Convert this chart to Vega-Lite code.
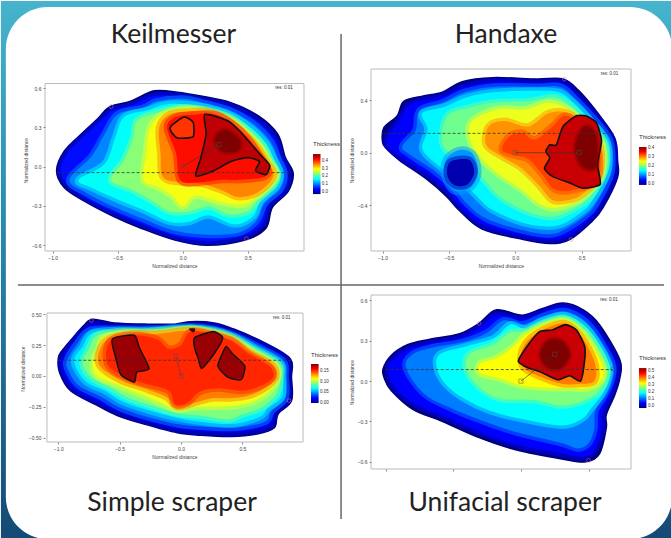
{"$schema":"https://vega.github.io/schema/vega-lite/v6.json","padding":0,"background":"white","bounds":"flush","columns":2,"spacing":{"row":44,"column":67},"resolve":{"scale":{"fill":"independent","stroke":"independent"}},
"config":{"view":{"stroke":null},"axis":{"labelFontSize":5,"titleFontSize":5,"labelColor":"#444","titleColor":"#444","tickColor":"#888","tickSize":2,"domain":false,"grid":false,"labelPadding":2,"titlePadding":3,"titleFontWeight":"normal","labelFont":"Liberation Sans","titleFont":"Liberation Sans"}},
"datasets":{
"a1":[{"v":0,"x":-0.97,"y":-0.03},{"v":0,"x":-0.91,"y":0.12},{"v":0,"x":-0.78,"y":0.25},{"v":0,"x":-0.65,"y":0.37},{"v":0,"x":-0.56,"y":0.46},{"v":0,"x":-0.4,"y":0.5},{"v":0,"x":-0.22,"y":0.58},{"v":0,"x":-0.04,"y":0.57},{"v":0,"x":0.14,"y":0.54},{"v":0,"x":0.37,"y":0.49},{"v":0,"x":0.58,"y":0.39},{"v":0,"x":0.73,"y":0.25},{"v":0,"x":0.79,"y":0.07},{"v":0,"x":0.85,"y":-0.05},{"v":0,"x":0.81,"y":-0.19},{"v":0,"x":0.69,"y":-0.31},{"v":0,"x":0.64,"y":-0.47},{"v":0,"x":0.48,"y":-0.56},{"v":0,"x":0.19,"y":-0.6},{"v":0,"x":-0.06,"y":-0.56},{"v":0,"x":-0.32,"y":-0.47},{"v":0,"x":-0.53,"y":-0.38},{"v":0,"x":-0.76,"y":-0.26},{"v":0,"x":-0.91,"y":-0.16},
{"v":0.06,"x":-0.94,"y":-0.03},{"v":0.06,"x":-0.88,"y":0.11},{"v":0.06,"x":-0.76,"y":0.23},{"v":0.06,"x":-0.63,"y":0.35},{"v":0.06,"x":-0.54,"y":0.43},{"v":0.06,"x":-0.39,"y":0.47},{"v":0.06,"x":-0.22,"y":0.54},{"v":0.06,"x":-0.04,"y":0.54},{"v":0.06,"x":0.14,"y":0.51},{"v":0.06,"x":0.36,"y":0.46},{"v":0.06,"x":0.56,"y":0.36},{"v":0.06,"x":0.7,"y":0.23},{"v":0.06,"x":0.76,"y":0.07},{"v":0.06,"x":0.81,"y":-0.05},{"v":0.06,"x":0.78,"y":-0.18},{"v":0.06,"x":0.66,"y":-0.29},{"v":0.06,"x":0.61,"y":-0.44},{"v":0.06,"x":0.46,"y":-0.53},{"v":0.06,"x":0.19,"y":-0.57},{"v":0.06,"x":-0.06,"y":-0.53},{"v":0.06,"x":-0.31,"y":-0.44},{"v":0.06,"x":-0.52,"y":-0.35},{"v":0.06,"x":-0.74,"y":-0.24},{"v":0.06,"x":-0.88,"y":-0.14},
{"v":0.12,"x":-0.87,"y":-0.1},{"v":0.12,"x":-0.7,"y":0.08},{"v":0.12,"x":-0.6,"y":0.25},{"v":0.12,"x":-0.5,"y":0.4},{"v":0.12,"x":-0.3,"y":0.45},{"v":0.12,"x":-0.2,"y":0.5},{"v":0.12,"x":0,"y":0.52},{"v":0.12,"x":0.15,"y":0.49},{"v":0.12,"x":0.36,"y":0.43},{"v":0.12,"x":0.54,"y":0.33},{"v":0.12,"x":0.67,"y":0.2},{"v":0.12,"x":0.73,"y":0.07},{"v":0.12,"x":0.78,"y":-0.05},{"v":0.12,"x":0.75,"y":-0.17},{"v":0.12,"x":0.63,"y":-0.28},{"v":0.12,"x":0.57,"y":-0.41},{"v":0.12,"x":0.44,"y":-0.5},{"v":0.12,"x":0.2,"y":-0.52},{"v":0.12,"x":-0.06,"y":-0.49},{"v":0.12,"x":-0.3,"y":-0.4},{"v":0.12,"x":-0.52,"y":-0.31},{"v":0.12,"x":-0.74,"y":-0.2},
{"v":0.18,"x":-0.8,"y":-0.1},{"v":0.18,"x":-0.6,"y":0.02},{"v":0.18,"x":-0.52,"y":0.22},{"v":0.18,"x":-0.45,"y":0.38},{"v":0.18,"x":-0.28,"y":0.43},{"v":0.18,"x":-0.1,"y":0.48},{"v":0.18,"x":0.15,"y":0.46},{"v":0.18,"x":0.36,"y":0.4},{"v":0.18,"x":0.52,"y":0.3},{"v":0.18,"x":0.64,"y":0.18},{"v":0.18,"x":0.7,"y":0.06},{"v":0.18,"x":0.75,"y":-0.05},{"v":0.18,"x":0.72,"y":-0.15},{"v":0.18,"x":0.6,"y":-0.26},{"v":0.18,"x":0.54,"y":-0.38},{"v":0.18,"x":0.4,"y":-0.44},{"v":0.18,"x":0.2,"y":-0.37},{"v":0.18,"x":0.05,"y":-0.42},{"v":0.18,"x":-0.1,"y":-0.42},{"v":0.18,"x":-0.3,"y":-0.33},{"v":0.18,"x":-0.5,"y":-0.25},{"v":0.18,"x":-0.7,"y":-0.16},
{"v":0.24,"x":-0.55,"y":-0.1},{"v":0.24,"x":-0.45,"y":0.05},{"v":0.24,"x":-0.38,"y":0.22},{"v":0.24,"x":-0.35,"y":0.35},{"v":0.24,"x":-0.2,"y":0.41},{"v":0.24,"x":0,"y":0.45},{"v":0.24,"x":0.15,"y":0.44},{"v":0.24,"x":0.36,"y":0.38},{"v":0.24,"x":0.5,"y":0.28},{"v":0.24,"x":0.62,"y":0.16},{"v":0.24,"x":0.67,"y":0.06},{"v":0.24,"x":0.73,"y":-0.05},{"v":0.24,"x":0.7,"y":-0.14},{"v":0.24,"x":0.58,"y":-0.25},{"v":0.24,"x":0.5,"y":-0.34},{"v":0.24,"x":0.35,"y":-0.36},{"v":0.24,"x":0.2,"y":-0.3},{"v":0.24,"x":0.05,"y":-0.34},{"v":0.24,"x":-0.1,"y":-0.34},{"v":0.24,"x":-0.25,"y":-0.25},{"v":0.24,"x":-0.4,"y":-0.17},
{"v":0.29,"x":-0.3,"y":-0.1},{"v":0.29,"x":-0.28,"y":0.1},{"v":0.29,"x":-0.25,"y":0.3},{"v":0.29,"x":-0.15,"y":0.4},{"v":0.29,"x":0,"y":0.44},{"v":0.29,"x":0.15,"y":0.43},{"v":0.29,"x":0.36,"y":0.36},{"v":0.29,"x":0.48,"y":0.27},{"v":0.29,"x":0.6,"y":0.15},{"v":0.29,"x":0.66,"y":0.05},{"v":0.29,"x":0.72,"y":-0.05},{"v":0.29,"x":0.68,"y":-0.13},{"v":0.29,"x":0.55,"y":-0.24},{"v":0.29,"x":0.45,"y":-0.29},{"v":0.29,"x":0.3,"y":-0.27},{"v":0.29,"x":0.1,"y":-0.22},{"v":0.29,"x":0,"y":-0.3},{"v":0.29,"x":-0.08,"y":-0.22},{"v":0.29,"x":-0.2,"y":-0.15},
{"v":0.35,"x":-0.15,"y":-0.08},{"v":0.35,"x":-0.17,"y":0.1},{"v":0.35,"x":-0.18,"y":0.3},{"v":0.35,"x":-0.1,"y":0.4},{"v":0.35,"x":0.05,"y":0.42},{"v":0.35,"x":0.2,"y":0.42},{"v":0.35,"x":0.36,"y":0.35},{"v":0.35,"x":0.48,"y":0.25},{"v":0.35,"x":0.58,"y":0.14},{"v":0.35,"x":0.65,"y":0.03},{"v":0.35,"x":0.7,"y":-0.05},{"v":0.35,"x":0.66,"y":-0.13},{"v":0.35,"x":0.55,"y":-0.21},{"v":0.35,"x":0.42,"y":-0.23},{"v":0.35,"x":0.3,"y":-0.18},{"v":0.35,"x":0.15,"y":-0.13},{"v":0.35,"x":0,"y":-0.12},
{"v":0.41,"x":-0.02,"y":-0.1},{"v":0.41,"x":-0.05,"y":0.1},{"v":0.41,"x":-0.12,"y":0.3},{"v":0.41,"x":-0.05,"y":0.38},{"v":0.41,"x":0.1,"y":0.4},{"v":0.41,"x":0.25,"y":0.4},{"v":0.41,"x":0.38,"y":0.33},{"v":0.41,"x":0.5,"y":0.22},{"v":0.41,"x":0.6,"y":0.08},{"v":0.41,"x":0.66,"y":-0.03},{"v":0.41,"x":0.62,"y":-0.08},{"v":0.41,"x":0.45,"y":-0.1},{"v":0.41,"x":0.3,"y":-0.1},{"v":0.41,"x":0.12,"y":-0.12}],
"a2":[{"g":1,"v":0.44,"x":0.17,"y":0.4},{"g":1,"v":0.44,"x":0.35,"y":0.35},{"g":1,"v":0.44,"x":0.45,"y":0.26},{"g":1,"v":0.44,"x":0.6,"y":0.09},{"g":1,"v":0.44,"x":0.67,"y":0.01},{"g":1,"v":0.44,"x":0.64,"y":-0.06},{"g":1,"v":0.44,"x":0.56,"y":-0.03},{"g":1,"v":0.44,"x":0.59,"y":0.04},{"g":1,"v":0.44,"x":0.5,"y":0.07},{"g":1,"v":0.44,"x":0.37,"y":0.04},{"g":1,"v":0.44,"x":0.24,"y":-0.03},{"g":1,"v":0.44,"x":0.1,"y":-0.07},{"g":1,"v":0.44,"x":0.14,"y":0.07},{"g":1,"v":0.44,"x":0.18,"y":0.25},
{"g":2,"v":0.4,"x":-0.09,"y":0.31},{"g":2,"v":0.4,"x":0.01,"y":0.38},{"g":2,"v":0.4,"x":0.08,"y":0.34},{"g":2,"v":0.4,"x":0.08,"y":0.23},{"g":2,"v":0.4,"x":-0.04,"y":0.22},{"g":2,"v":0.4,"x":-0.09,"y":0.27}],
"a3":[{"v":0.47,"x":0.25,"y":0.22},{"v":0.47,"x":0.33,"y":0.28},{"v":0.47,"x":0.44,"y":0.2},{"v":0.47,"x":0.42,"y":0.12},{"v":0.47,"x":0.3,"y":0.12}],
"b1":[{"v":0,"x":-1,"y":0.08},{"v":0,"x":-0.99,"y":0.19},{"v":0,"x":-0.89,"y":0.28},{"v":0,"x":-0.84,"y":0.39},{"v":0,"x":-0.7,"y":0.43},{"v":0,"x":-0.55,"y":0.46},{"v":0,"x":-0.4,"y":0.54},{"v":0,"x":-0.17,"y":0.57},{"v":0,"x":0.16,"y":0.56},{"v":0,"x":0.36,"y":0.56},{"v":0,"x":0.48,"y":0.47},{"v":0,"x":0.63,"y":0.29},{"v":0,"x":0.75,"y":0.11},{"v":0,"x":0.77,"y":-0.06},{"v":0,"x":0.77,"y":-0.19},{"v":0,"x":0.66,"y":-0.42},{"v":0,"x":0.58,"y":-0.52},{"v":0,"x":0.41,"y":-0.66},{"v":0,"x":0.26,"y":-0.69},{"v":0,"x":0.06,"y":-0.66},{"v":0,"x":-0.25,"y":-0.58},{"v":0,"x":-0.42,"y":-0.44},{"v":0,"x":-0.52,"y":-0.33},{"v":0,"x":-0.67,"y":-0.2},{"v":0,"x":-0.87,"y":-0.06},{"v":0,"x":-0.97,"y":0.03},
{"v":0.05,"x":-0.97,"y":0.08},{"v":0.05,"x":-0.87,"y":0.25},{"v":0.05,"x":-0.8,"y":0.36},{"v":0.05,"x":-0.68,"y":0.4},{"v":0.05,"x":-0.54,"y":0.43},{"v":0.05,"x":-0.39,"y":0.5},{"v":0.05,"x":-0.17,"y":0.54},{"v":0.05,"x":0.16,"y":0.53},{"v":0.05,"x":0.35,"y":0.53},{"v":0.05,"x":0.46,"y":0.44},{"v":0.05,"x":0.61,"y":0.27},{"v":0.05,"x":0.73,"y":0.1},{"v":0.05,"x":0.75,"y":-0.06},{"v":0.05,"x":0.74,"y":-0.19},{"v":0.05,"x":0.63,"y":-0.41},{"v":0.05,"x":0.56,"y":-0.5},{"v":0.05,"x":0.4,"y":-0.63},{"v":0.05,"x":0.26,"y":-0.66},{"v":0.05,"x":0.06,"y":-0.63},{"v":0.05,"x":-0.24,"y":-0.55},{"v":0.05,"x":-0.41,"y":-0.41},{"v":0.05,"x":-0.5,"y":-0.3},{"v":0.05,"x":-0.65,"y":-0.17},{"v":0.05,"x":-0.85,"y":-0.04},
{"v":0.1,"x":-0.85,"y":0.05},{"v":0.1,"x":-0.75,"y":0.17},{"v":0.1,"x":-0.72,"y":0.32},{"v":0.1,"x":-0.55,"y":0.38},{"v":0.1,"x":-0.38,"y":0.46},{"v":0.1,"x":-0.17,"y":0.5},{"v":0.1,"x":0.16,"y":0.5},{"v":0.1,"x":0.34,"y":0.5},{"v":0.1,"x":0.45,"y":0.41},{"v":0.1,"x":0.6,"y":0.25},{"v":0.1,"x":0.71,"y":0.1},{"v":0.1,"x":0.73,"y":-0.06},{"v":0.1,"x":0.71,"y":-0.19},{"v":0.1,"x":0.6,"y":-0.4},{"v":0.1,"x":0.53,"y":-0.48},{"v":0.1,"x":0.38,"y":-0.58},{"v":0.1,"x":0.26,"y":-0.62},{"v":0.1,"x":0.06,"y":-0.59},{"v":0.1,"x":-0.22,"y":-0.5},{"v":0.1,"x":-0.37,"y":-0.38},{"v":0.1,"x":-0.47,"y":-0.26},{"v":0.1,"x":-0.62,"y":-0.13},{"v":0.1,"x":-0.8,"y":-0.01},
{"v":0.15,"x":-0.7,"y":0.03},{"v":0.15,"x":-0.66,"y":0.18},{"v":0.15,"x":-0.7,"y":0.3},{"v":0.15,"x":-0.53,"y":0.35},{"v":0.15,"x":-0.37,"y":0.42},{"v":0.15,"x":-0.17,"y":0.46},{"v":0.15,"x":0.16,"y":0.47},{"v":0.15,"x":0.33,"y":0.46},{"v":0.15,"x":0.44,"y":0.38},{"v":0.15,"x":0.58,"y":0.23},{"v":0.15,"x":0.69,"y":0.09},{"v":0.15,"x":0.71,"y":-0.06},{"v":0.15,"x":0.68,"y":-0.19},{"v":0.15,"x":0.57,"y":-0.38},{"v":0.15,"x":0.5,"y":-0.45},{"v":0.15,"x":0.36,"y":-0.54},{"v":0.15,"x":0.24,"y":-0.56},{"v":0.15,"x":0.05,"y":-0.53},{"v":0.15,"x":-0.18,"y":-0.43},{"v":0.15,"x":-0.32,"y":-0.3},{"v":0.15,"x":-0.44,"y":-0.2},{"v":0.15,"x":-0.6,"y":-0.08},
{"v":0.2,"x":-0.52,"y":0.02},{"v":0.2,"x":-0.55,"y":0.15},{"v":0.2,"x":-0.5,"y":0.29},{"v":0.2,"x":-0.35,"y":0.34},{"v":0.2,"x":-0.17,"y":0.38},{"v":0.2,"x":0.1,"y":0.39},{"v":0.2,"x":0.3,"y":0.42},{"v":0.2,"x":0.42,"y":0.35},{"v":0.2,"x":0.56,"y":0.21},{"v":0.2,"x":0.67,"y":0.09},{"v":0.2,"x":0.69,"y":-0.06},{"v":0.2,"x":0.65,"y":-0.2},{"v":0.2,"x":0.55,"y":-0.35},{"v":0.2,"x":0.45,"y":-0.42},{"v":0.2,"x":0.32,"y":-0.48},{"v":0.2,"x":0.2,"y":-0.48},{"v":0.2,"x":0.03,"y":-0.42},{"v":0.2,"x":-0.12,"y":-0.33},{"v":0.2,"x":-0.22,"y":-0.22},{"v":0.2,"x":-0.33,"y":-0.1},
{"v":0.25,"x":-0.32,"y":0.05},{"v":0.25,"x":-0.35,"y":0.18},{"v":0.25,"x":-0.3,"y":0.26},{"v":0.25,"x":-0.12,"y":0.33},{"v":0.25,"x":0.08,"y":0.33},{"v":0.25,"x":0.25,"y":0.38},{"v":0.25,"x":0.4,"y":0.33},{"v":0.25,"x":0.54,"y":0.2},{"v":0.25,"x":0.65,"y":0.08},{"v":0.25,"x":0.67,"y":-0.06},{"v":0.25,"x":0.64,"y":-0.2},{"v":0.25,"x":0.52,"y":-0.33},{"v":0.25,"x":0.42,"y":-0.39},{"v":0.25,"x":0.28,"y":-0.42},{"v":0.25,"x":0.17,"y":-0.38},{"v":0.25,"x":0.05,"y":-0.28},{"v":0.25,"x":-0.1,"y":-0.18},{"v":0.25,"x":-0.22,"y":-0.08},
{"v":0.3,"x":-0.22,"y":0.06},{"v":0.3,"x":-0.2,"y":0.2},{"v":0.3,"x":-0.08,"y":0.24},{"v":0.3,"x":0.1,"y":0.2},{"v":0.3,"x":0.25,"y":0.3},{"v":0.3,"x":0.4,"y":0.3},{"v":0.3,"x":0.53,"y":0.2},{"v":0.3,"x":0.63,"y":0.07},{"v":0.3,"x":0.65,"y":-0.06},{"v":0.3,"x":0.62,"y":-0.2},{"v":0.3,"x":0.5,"y":-0.32},{"v":0.3,"x":0.4,"y":-0.36},{"v":0.3,"x":0.28,"y":-0.36},{"v":0.3,"x":0.18,"y":-0.25},{"v":0.3,"x":0.05,"y":-0.12},{"v":0.3,"x":-0.1,"y":-0.03},
{"v":0.345,"x":-0.1,"y":0.02},{"v":0.345,"x":-0.05,"y":0.12},{"v":0.345,"x":0.05,"y":0.15},{"v":0.345,"x":0.15,"y":0.1},{"v":0.345,"x":0.28,"y":0.2},{"v":0.345,"x":0.38,"y":0.28},{"v":0.345,"x":0.52,"y":0.19},{"v":0.345,"x":0.62,"y":0.06},{"v":0.345,"x":0.62,"y":-0.2},{"v":0.345,"x":0.45,"y":-0.28},{"v":0.345,"x":0.3,"y":-0.28},{"v":0.345,"x":0.2,"y":-0.16},{"v":0.345,"x":0.1,"y":-0.05},{"v":0.345,"x":0,"y":-0.02},
{"v":0.11,"x":-0.52,"y":-0.05},{"v":0.11,"x":-0.42,"y":0.02},{"v":0.11,"x":-0.32,"y":-0.01},{"v":0.11,"x":-0.28,"y":-0.15},{"v":0.11,"x":-0.34,"y":-0.27},{"v":0.11,"x":-0.46,"y":-0.29},{"v":0.11,"x":-0.53,"y":-0.18},
{"v":0.02,"x":-0.5,"y":-0.08},{"v":0.02,"x":-0.42,"y":-0.05},{"v":0.02,"x":-0.34,"y":-0.06},{"v":0.02,"x":-0.31,"y":-0.15},{"v":0.02,"x":-0.36,"y":-0.24},{"v":0.02,"x":-0.45,"y":-0.25},{"v":0.02,"x":-0.51,"y":-0.18}],
"b2":[{"g":1,"v":0.38,"x":0.46,"y":0.28},{"g":1,"v":0.38,"x":0.53,"y":0.28},{"g":1,"v":0.38,"x":0.61,"y":0.23},{"g":1,"v":0.38,"x":0.65,"y":0.09},{"g":1,"v":0.38,"x":0.62,"y":-0.09},{"g":1,"v":0.38,"x":0.64,"y":-0.24},{"g":1,"v":0.38,"x":0.51,"y":-0.27},{"g":1,"v":0.38,"x":0.41,"y":-0.23},{"g":1,"v":0.38,"x":0.28,"y":-0.18},{"g":1,"v":0.38,"x":0.22,"y":-0.12},{"g":1,"v":0.38,"x":0.26,"y":-0.04},{"g":1,"v":0.38,"x":0.23,"y":0.01},{"g":1,"v":0.38,"x":0.26,"y":0.06},{"g":1,"v":0.38,"x":0.31,"y":0.06},{"g":1,"v":0.38,"x":0.36,"y":0.2}],
"b3":[{"v":0.41,"x":0.52,"y":0.2},{"v":0.41,"x":0.6,"y":0.15},{"v":0.41,"x":0.62,"y":0},{"v":0.41,"x":0.6,"y":-0.12},{"v":0.41,"x":0.5,"y":-0.1},{"v":0.41,"x":0.45,"y":0.05}],
"c1":[{"v":0,"x":-1,"y":0.14},{"v":0,"x":-0.98,"y":0.19},{"v":0,"x":-0.88,"y":0.31},{"v":0,"x":-0.79,"y":0.41},{"v":0,"x":-0.72,"y":0.46},{"v":0,"x":-0.54,"y":0.43},{"v":0,"x":-0.27,"y":0.42},{"v":0,"x":-0.05,"y":0.42},{"v":0,"x":0.08,"y":0.44},{"v":0,"x":0.27,"y":0.43},{"v":0,"x":0.43,"y":0.38},{"v":0,"x":0.68,"y":0.27},{"v":0,"x":0.89,"y":0.14},{"v":0,"x":0.9,"y":-0.01},{"v":0,"x":0.9,"y":-0.2},{"v":0,"x":0.79,"y":-0.31},{"v":0,"x":0.76,"y":-0.42},{"v":0,"x":0.62,"y":-0.47},{"v":0,"x":0.41,"y":-0.49},{"v":0,"x":0.16,"y":-0.48},{"v":0,"x":-0.03,"y":-0.46},{"v":0,"x":-0.3,"y":-0.39},{"v":0,"x":-0.52,"y":-0.32},{"v":0,"x":-0.68,"y":-0.24},{"v":0,"x":-0.9,"y":-0.12},{"v":0,"x":-0.99,"y":0.03},
{"v":0.02,"x":-0.97,"y":0.14},{"v":0.02,"x":-0.86,"y":0.3},{"v":0.02,"x":-0.77,"y":0.39},{"v":0.02,"x":-0.71,"y":0.42},{"v":0.02,"x":-0.53,"y":0.4},{"v":0.02,"x":-0.27,"y":0.39},{"v":0.02,"x":-0.05,"y":0.39},{"v":0.02,"x":0.08,"y":0.41},{"v":0.02,"x":0.27,"y":0.4},{"v":0.02,"x":0.43,"y":0.35},{"v":0.02,"x":0.66,"y":0.25},{"v":0.02,"x":0.86,"y":0.13},{"v":0.02,"x":0.87,"y":-0.01},{"v":0.02,"x":0.87,"y":-0.19},{"v":0.02,"x":0.77,"y":-0.29},{"v":0.02,"x":0.73,"y":-0.4},{"v":0.02,"x":0.6,"y":-0.44},{"v":0.02,"x":0.41,"y":-0.46},{"v":0.02,"x":0.16,"y":-0.45},{"v":0.02,"x":-0.03,"y":-0.43},{"v":0.02,"x":-0.3,"y":-0.36},{"v":0.02,"x":-0.51,"y":-0.29},{"v":0.02,"x":-0.67,"y":-0.21},{"v":0.02,"x":-0.87,"y":-0.11},{"v":0.02,"x":-0.96,"y":0.03},
{"v":0.045,"x":-0.93,"y":0.12},{"v":0.045,"x":-0.84,"y":0.27},{"v":0.045,"x":-0.74,"y":0.37},{"v":0.045,"x":-0.52,"y":0.38},{"v":0.045,"x":-0.27,"y":0.38},{"v":0.045,"x":0.08,"y":0.4},{"v":0.045,"x":0.27,"y":0.38},{"v":0.045,"x":0.43,"y":0.33},{"v":0.045,"x":0.64,"y":0.23},{"v":0.045,"x":0.83,"y":0.12},{"v":0.045,"x":0.85,"y":-0.01},{"v":0.045,"x":0.85,"y":-0.18},{"v":0.045,"x":0.74,"y":-0.28},{"v":0.045,"x":0.7,"y":-0.36},{"v":0.045,"x":0.58,"y":-0.4},{"v":0.045,"x":0.41,"y":-0.42},{"v":0.045,"x":0.16,"y":-0.41},{"v":0.045,"x":-0.03,"y":-0.39},{"v":0.045,"x":-0.28,"y":-0.33},{"v":0.045,"x":-0.49,"y":-0.26},{"v":0.045,"x":-0.65,"y":-0.17},{"v":0.045,"x":-0.83,"y":-0.08},{"v":0.045,"x":-0.91,"y":0.03},
{"v":0.065,"x":-0.87,"y":0.12},{"v":0.065,"x":-0.8,"y":0.24},{"v":0.065,"x":-0.72,"y":0.35},{"v":0.065,"x":-0.5,"y":0.37},{"v":0.065,"x":-0.27,"y":0.37},{"v":0.065,"x":0.08,"y":0.39},{"v":0.065,"x":0.27,"y":0.37},{"v":0.065,"x":0.43,"y":0.32},{"v":0.065,"x":0.62,"y":0.22},{"v":0.065,"x":0.81,"y":0.11},{"v":0.065,"x":0.83,"y":-0.01},{"v":0.065,"x":0.82,"y":-0.17},{"v":0.065,"x":0.71,"y":-0.26},{"v":0.065,"x":0.66,"y":-0.32},{"v":0.065,"x":0.56,"y":-0.36},{"v":0.065,"x":0.4,"y":-0.39},{"v":0.065,"x":0.16,"y":-0.37},{"v":0.065,"x":-0.03,"y":-0.34},{"v":0.065,"x":-0.26,"y":-0.28},{"v":0.065,"x":-0.47,"y":-0.21},{"v":0.065,"x":-0.62,"y":-0.12},{"v":0.065,"x":-0.78,"y":-0.04},
{"v":0.09,"x":-0.8,"y":0.1},{"v":0.09,"x":-0.75,"y":0.22},{"v":0.09,"x":-0.68,"y":0.33},{"v":0.09,"x":-0.5,"y":0.36},{"v":0.09,"x":-0.27,"y":0.36},{"v":0.09,"x":0.08,"y":0.385},{"v":0.09,"x":0.27,"y":0.36},{"v":0.09,"x":0.43,"y":0.31},{"v":0.09,"x":0.6,"y":0.21},{"v":0.09,"x":0.79,"y":0.1},{"v":0.09,"x":0.81,"y":-0.01},{"v":0.09,"x":0.78,"y":-0.14},{"v":0.09,"x":0.68,"y":-0.24},{"v":0.09,"x":0.6,"y":-0.28},{"v":0.09,"x":0.5,"y":-0.31},{"v":0.09,"x":0.38,"y":-0.35},{"v":0.09,"x":0.16,"y":-0.32},{"v":0.09,"x":-0.03,"y":-0.3},{"v":0.09,"x":-0.24,"y":-0.24},{"v":0.09,"x":-0.44,"y":-0.17},{"v":0.09,"x":-0.58,"y":-0.09},{"v":0.09,"x":-0.73,"y":-0.01},
{"v":0.11,"x":-0.72,"y":0.1},{"v":0.11,"x":-0.67,"y":0.22},{"v":0.11,"x":-0.63,"y":0.31},{"v":0.11,"x":-0.45,"y":0.35},{"v":0.11,"x":-0.2,"y":0.35},{"v":0.11,"x":0.08,"y":0.38},{"v":0.11,"x":0.27,"y":0.35},{"v":0.11,"x":0.42,"y":0.3},{"v":0.11,"x":0.58,"y":0.2},{"v":0.11,"x":0.77,"y":0.09},{"v":0.11,"x":0.79,"y":-0.01},{"v":0.11,"x":0.72,"y":-0.12},{"v":0.11,"x":0.6,"y":-0.2},{"v":0.11,"x":0.45,"y":-0.24},{"v":0.11,"x":0.3,"y":-0.25},{"v":0.11,"x":0.1,"y":-0.25},{"v":0.11,"x":-0.03,"y":-0.27},{"v":0.11,"x":-0.2,"y":-0.2},{"v":0.11,"x":-0.4,"y":-0.12},{"v":0.11,"x":-0.55,"y":-0.06},{"v":0.11,"x":-0.68,"y":0},
{"v":0.135,"x":-0.67,"y":0.1},{"v":0.135,"x":-0.62,"y":0.28},{"v":0.135,"x":-0.42,"y":0.34},{"v":0.135,"x":-0.2,"y":0.34},{"v":0.135,"x":0.08,"y":0.37},{"v":0.135,"x":0.27,"y":0.34},{"v":0.135,"x":0.42,"y":0.29},{"v":0.135,"x":0.56,"y":0.19},{"v":0.135,"x":0.74,"y":0.09},{"v":0.135,"x":0.77,"y":-0.01},{"v":0.135,"x":0.68,"y":-0.1},{"v":0.135,"x":0.55,"y":-0.16},{"v":0.135,"x":0.4,"y":-0.18},{"v":0.135,"x":0.25,"y":-0.18},{"v":0.135,"x":0.1,"y":-0.22},{"v":0.135,"x":-0.03,"y":-0.25},{"v":0.135,"x":-0.12,"y":-0.17},{"v":0.135,"x":-0.3,"y":-0.1},{"v":0.135,"x":-0.5,"y":-0.03},
{"v":0.155,"x":-0.6,"y":0.1},{"v":0.155,"x":-0.58,"y":0.28},{"v":0.155,"x":-0.4,"y":0.33},{"v":0.155,"x":-0.2,"y":0.3},{"v":0.155,"x":-0.1,"y":0.22},{"v":0.155,"x":0,"y":0.25},{"v":0.155,"x":0.08,"y":0.36},{"v":0.155,"x":0.27,"y":0.33},{"v":0.155,"x":0.42,"y":0.28},{"v":0.155,"x":0.55,"y":0.18},{"v":0.155,"x":0.72,"y":0.08},{"v":0.155,"x":0.75,"y":-0.01},{"v":0.155,"x":0.65,"y":-0.08},{"v":0.155,"x":0.5,"y":-0.12},{"v":0.155,"x":0.3,"y":-0.1},{"v":0.155,"x":0.15,"y":-0.13},{"v":0.155,"x":0.05,"y":-0.22},{"v":0.155,"x":-0.05,"y":-0.23},{"v":0.155,"x":-0.1,"y":-0.12},{"v":0.155,"x":-0.3,"y":-0.06},{"v":0.155,"x":-0.47,"y":0}],
"c2":[{"g":1,"v":0.175,"x":-0.56,"y":0.3},{"g":1,"v":0.175,"x":-0.38,"y":0.33},{"g":1,"v":0.175,"x":-0.34,"y":0.23},{"g":1,"v":0.175,"x":-0.26,"y":0.06},{"g":1,"v":0.175,"x":-0.36,"y":0.03},{"g":1,"v":0.175,"x":-0.38,"y":-0.05},{"g":1,"v":0.175,"x":-0.49,"y":0.01},{"g":1,"v":0.175,"x":-0.53,"y":0.14},
{"g":2,"v":0.175,"x":0.11,"y":0.31},{"g":2,"v":0.175,"x":0.26,"y":0.36},{"g":2,"v":0.175,"x":0.34,"y":0.31},{"g":2,"v":0.175,"x":0.27,"y":0.18},{"g":2,"v":0.175,"x":0.17,"y":0.06},{"g":2,"v":0.175,"x":0.14,"y":0.14},{"g":2,"v":0.175,"x":0.11,"y":0.23},
{"g":3,"v":0.175,"x":0.37,"y":0.24},{"g":3,"v":0.175,"x":0.42,"y":0.18},{"g":3,"v":0.175,"x":0.52,"y":0.08},{"g":3,"v":0.175,"x":0.49,"y":-0.03},{"g":3,"v":0.175,"x":0.38,"y":-0.01},{"g":3,"v":0.175,"x":0.3,"y":0.08},{"g":3,"v":0.175,"x":0.34,"y":0.19},
{"g":4,"v":0.175,"x":0.07,"y":0.38},{"g":4,"v":0.175,"x":0.11,"y":0.38},{"g":4,"v":0.175,"x":0.1,"y":0.36}],
"d1":[{"v":0,"x":-1.02,"y":0.09},{"v":0,"x":-0.96,"y":0.19},{"v":0,"x":-0.84,"y":0.27},{"v":0,"x":-0.68,"y":0.31},{"v":0,"x":-0.46,"y":0.35},{"v":0,"x":-0.31,"y":0.43},{"v":0,"x":-0.18,"y":0.53},{"v":0,"x":0.01,"y":0.49},{"v":0,"x":0.16,"y":0.54},{"v":0,"x":0.31,"y":0.58},{"v":0,"x":0.46,"y":0.53},{"v":0,"x":0.58,"y":0.42},{"v":0,"x":0.73,"y":0.16},{"v":0,"x":0.73,"y":0.02},{"v":0,"x":0.69,"y":-0.11},{"v":0,"x":0.63,"y":-0.25},{"v":0,"x":0.63,"y":-0.35},{"v":0,"x":0.58,"y":-0.54},{"v":0,"x":0.48,"y":-0.6},{"v":0,"x":0.31,"y":-0.58},{"v":0,"x":-0.04,"y":-0.51},{"v":0,"x":-0.31,"y":-0.42},{"v":0,"x":-0.58,"y":-0.3},{"v":0,"x":-0.8,"y":-0.21},{"v":0,"x":-0.96,"y":-0.07},{"v":0,"x":-1.01,"y":0.02},
{"v":0.066,"x":-0.98,"y":0.09},{"v":0.066,"x":-0.93,"y":0.17},{"v":0.066,"x":-0.82,"y":0.24},{"v":0.066,"x":-0.67,"y":0.28},{"v":0.066,"x":-0.45,"y":0.32},{"v":0.066,"x":-0.3,"y":0.4},{"v":0.066,"x":-0.18,"y":0.49},{"v":0.066,"x":0.01,"y":0.46},{"v":0.066,"x":0.16,"y":0.51},{"v":0.066,"x":0.31,"y":0.55},{"v":0.066,"x":0.45,"y":0.5},{"v":0.066,"x":0.56,"y":0.39},{"v":0.066,"x":0.7,"y":0.15},{"v":0.066,"x":0.7,"y":0.02},{"v":0.066,"x":0.66,"y":-0.1},{"v":0.066,"x":0.6,"y":-0.24},{"v":0.066,"x":0.6,"y":-0.34},{"v":0.066,"x":0.55,"y":-0.5},{"v":0.066,"x":0.47,"y":-0.56},{"v":0.066,"x":0.31,"y":-0.54},{"v":0.066,"x":-0.04,"y":-0.47},{"v":0.066,"x":-0.3,"y":-0.38},{"v":0.066,"x":-0.57,"y":-0.26},{"v":0.066,"x":-0.78,"y":-0.17},{"v":0.066,"x":-0.93,"y":-0.05},
{"v":0.13,"x":-0.85,"y":0.1},{"v":0.13,"x":-0.8,"y":0.2},{"v":0.13,"x":-0.65,"y":0.25},{"v":0.13,"x":-0.43,"y":0.29},{"v":0.13,"x":-0.25,"y":0.36},{"v":0.13,"x":-0.13,"y":0.45},{"v":0.13,"x":0.01,"y":0.42},{"v":0.13,"x":0.16,"y":0.48},{"v":0.13,"x":0.31,"y":0.52},{"v":0.13,"x":0.44,"y":0.47},{"v":0.13,"x":0.54,"y":0.37},{"v":0.13,"x":0.67,"y":0.14},{"v":0.13,"x":0.67,"y":0.02},{"v":0.13,"x":0.62,"y":-0.1},{"v":0.13,"x":0.55,"y":-0.22},{"v":0.13,"x":0.54,"y":-0.36},{"v":0.13,"x":0.5,"y":-0.46},{"v":0.13,"x":0.42,"y":-0.5},{"v":0.13,"x":0.3,"y":-0.46},{"v":0.13,"x":-0.03,"y":-0.38},{"v":0.13,"x":-0.27,"y":-0.3},{"v":0.13,"x":-0.52,"y":-0.2},{"v":0.13,"x":-0.72,"y":-0.09},
{"v":0.2,"x":-0.62,"y":0.09},{"v":0.2,"x":-0.6,"y":0.2},{"v":0.2,"x":-0.4,"y":0.26},{"v":0.2,"x":-0.2,"y":0.32},{"v":0.2,"x":-0.08,"y":0.42},{"v":0.2,"x":0.03,"y":0.39},{"v":0.2,"x":0.16,"y":0.45},{"v":0.2,"x":0.31,"y":0.49},{"v":0.2,"x":0.43,"y":0.44},{"v":0.2,"x":0.53,"y":0.34},{"v":0.2,"x":0.65,"y":0.13},{"v":0.2,"x":0.65,"y":0.02},{"v":0.2,"x":0.6,"y":-0.1},{"v":0.2,"x":0.52,"y":-0.2},{"v":0.2,"x":0.45,"y":-0.28},{"v":0.2,"x":0.3,"y":-0.33},{"v":0.2,"x":0,"y":-0.28},{"v":0.2,"x":-0.23,"y":-0.22},{"v":0.2,"x":-0.42,"y":-0.13},{"v":0.2,"x":-0.55,"y":-0.03},
{"v":0.265,"x":-0.4,"y":0.08},{"v":0.265,"x":-0.38,"y":0.2},{"v":0.265,"x":-0.2,"y":0.27},{"v":0.265,"x":-0.08,"y":0.36},{"v":0.265,"x":0.03,"y":0.37},{"v":0.265,"x":0.16,"y":0.43},{"v":0.265,"x":0.31,"y":0.47},{"v":0.265,"x":0.42,"y":0.42},{"v":0.265,"x":0.52,"y":0.32},{"v":0.265,"x":0.63,"y":0.12},{"v":0.265,"x":0.63,"y":0.02},{"v":0.265,"x":0.57,"y":-0.08},{"v":0.265,"x":0.45,"y":-0.15},{"v":0.265,"x":0.3,"y":-0.18},{"v":0.265,"x":0.1,"y":-0.14},{"v":0.265,"x":-0.15,"y":-0.13},{"v":0.265,"x":-0.3,"y":-0.05},
{"v":0.33,"x":-0.3,"y":0.06},{"v":0.33,"x":-0.3,"y":0.13},{"v":0.33,"x":-0.18,"y":0.17},{"v":0.33,"x":-0.05,"y":0.26},{"v":0.33,"x":0.03,"y":0.34},{"v":0.33,"x":0.16,"y":0.41},{"v":0.33,"x":0.31,"y":0.45},{"v":0.33,"x":0.41,"y":0.4},{"v":0.33,"x":0.5,"y":0.3},{"v":0.33,"x":0.6,"y":0.12},{"v":0.33,"x":0.6,"y":0.02},{"v":0.33,"x":0.5,"y":-0.05},{"v":0.33,"x":0.35,"y":-0.05},{"v":0.33,"x":0.2,"y":-0.05},{"v":0.33,"x":0,"y":-0.03},{"v":0.33,"x":-0.15,"y":0.02},
{"v":0.4,"x":0.02,"y":0.1},{"v":0.4,"x":0,"y":0.2},{"v":0.4,"x":0.05,"y":0.3},{"v":0.4,"x":0.16,"y":0.38},{"v":0.4,"x":0.31,"y":0.43},{"v":0.4,"x":0.4,"y":0.38},{"v":0.4,"x":0.48,"y":0.28},{"v":0.4,"x":0.55,"y":0.12},{"v":0.4,"x":0.54,"y":0},{"v":0.4,"x":0.43,"y":-0.02},{"v":0.4,"x":0.3,"y":-0.02},{"v":0.4,"x":0.15,"y":0.03}],
"d2":[{"g":1,"v":0.49,"x":-0.02,"y":0.15},{"g":1,"v":0.49,"x":0.06,"y":0.28},{"g":1,"v":0.49,"x":0.14,"y":0.37},{"g":1,"v":0.49,"x":0.23,"y":0.38},{"g":1,"v":0.49,"x":0.33,"y":0.42},{"g":1,"v":0.49,"x":0.41,"y":0.38},{"g":1,"v":0.49,"x":0.47,"y":0.26},{"g":1,"v":0.49,"x":0.47,"y":0.15},{"g":1,"v":0.49,"x":0.44,"y":0},{"g":1,"v":0.49,"x":0.36,"y":0.04},{"g":1,"v":0.49,"x":0.27,"y":0.01},{"g":1,"v":0.49,"x":0.14,"y":0.07},{"g":1,"v":0.49,"x":0.05,"y":0.1}],
"d3":[{"v":0.53,"x":0.14,"y":0.2},{"v":0.53,"x":0.2,"y":0.3},{"v":0.53,"x":0.3,"y":0.3},{"v":0.53,"x":0.36,"y":0.2},{"v":0.53,"x":0.3,"y":0.1},{"v":0.53,"x":0.2,"y":0.1}]
},
"concat":[
{"width":259,"height":182,
"encoding":{"x":{"field":"x","type":"quantitative","scale":{"domain":[-1.059,0.933],"nice":false,"zero":false},"axis":{"zindex":1,"title":"Normalized distance","values":[-1,-0.5,0,0.5],"format":".1f"}},"y":{"field":"y","type":"quantitative","scale":{"domain":[-0.644,0.747],"nice":false,"zero":false},"axis":{"zindex":1,"title":"Normalized distance","values":[-0.6,-0.3,0,0.3,0.6],"format":".1f"}}},
"layer":[
{"data":{"values":[{"x":-1.398,"x2":3.764,"y":1.267,"y2":-2.846}]},"mark":{"type":"rect","fill":{"gradient":"linear","x1":0,"y1":0,"x2":0,"y2":1,"stops":[{"offset":0,"color":"#46b4cc"},{"offset":0.4,"color":"#2a8bae"},{"offset":1,"color":"#144a75"}]}},"encoding":{"x2":{"field":"x2"},"y2":{"field":"y2"}}},
{"data":{"values":[{"x":-1.36,"x2":3.764,"y":1.221,"y2":-2.846}]},"mark":{"type":"rect","fill":"white","cornerRadius":42},"encoding":{"x2":{"field":"x2"},"y2":{"field":"y2"}}},
{"data":{"values":[{"x":1.218,"y":1.015,"y2":-2.693}]},"mark":{"type":"rule","color":"#666","strokeWidth":1.5},"encoding":{"y2":{"field":"y2"}}},
{"data":{"values":[{"x":-1.267,"x2":3.702,"y":-0.904}]},"mark":{"type":"rule","color":"#666","strokeWidth":1.5},"encoding":{"x2":{"field":"x2"}}},
{"data":{"values":[{"x":-1.059,"x2":0.933,"y":-0.644,"y2":0.636}]},"mark":{"type":"rect","fill":"white","stroke":"#bbb","strokeWidth":1},"encoding":{"x2":{"field":"x2"},"y2":{"field":"y2"}}},
{"data":{"name":"a1"},"transform":[{"filter":"datum.v==0"}],"mark":{"type":"line","interpolate":"cardinal-closed","fill":"#00007f","stroke":"#00007f","strokeWidth":1.5},"encoding":{"order":{"value":null}}},
{"data":{"name":"a1"},"transform":[{"filter":"datum.v>0"}],"mark":{"type":"line","interpolate":"cardinal-closed","strokeWidth":7,"strokeOpacity":0.5},"encoding":{"order":{"value":null},"fill":{"field":"v","type":"quantitative","scale":{"domain":[0,0.47],"range":["#00007f","#0000ff","#007fff","#00ffff","#7fff7f","#ffff00","#ff7f00","#ff0000","#7f0000"]},"legend":null},"stroke":{"field":"v","type":"quantitative","scale":{"domain":[0,0.47],"range":["#00007f","#0000ff","#007fff","#00ffff","#7fff7f","#ffff00","#ff7f00","#ff0000","#7f0000"]},"legend":null}}},
{"data":{"name":"a2"},"mark":{"type":"line","interpolate":"cardinal-closed","tension":0.4,"stroke":"#111","strokeWidth":1.6},"encoding":{"order":{"value":null},"detail":{"field":"g"},"fill":{"field":"v","type":"quantitative","legend":null}}},
{"data":{"name":"a3"},"mark":{"type":"line","interpolate":"cardinal-closed","strokeWidth":5,"strokeOpacity":0.4},"encoding":{"order":{"value":null},"fill":{"field":"v","type":"quantitative","legend":null},"stroke":{"field":"v","type":"quantitative","legend":null}}},
{"data":{"values":[{"x":-0.97,"x2":0.83,"y":-0.045}]},"mark":{"type":"rule","color":"#333","strokeDash":[3,2],"strokeWidth":0.8},"encoding":{"x2":{"field":"x2"}}},
{"data":{"values":[{"x":0,"y":0},{"x":0.28,"y":0.17}]},"layer":[{"mark":{"type":"line","color":"#333","strokeWidth":0.6}},{"mark":{"type":"point","shape":"square","size":18,"color":"#554","strokeWidth":0.7}}]},
{"data":{"values":[{"x":-0.55,"y":0.46},{"x":0.49,"y":-0.55}]},"mark":{"type":"point","size":14,"color":"#e87ba0","strokeWidth":0.7}},
{"data":{"values":[{"x":0.78,"y":0.605,"t":"res: 0.01"}]},"mark":{"type":"text","fontSize":4.5,"color":"#333"},"encoding":{"text":{"field":"t"}}},
{"data":{"values":[{"x":1.002,"x2":1.06,"y":0.097,"y2":-0.209}]},"mark":{"type":"rect","fill":{"gradient":"linear","x1":0,"y1":1,"x2":0,"y2":0,"stops":[{"offset":0,"color":"#00007f"},{"offset":0.125,"color":"#0000ff"},{"offset":0.25,"color":"#007fff"},{"offset":0.375,"color":"#00ffff"},{"offset":0.5,"color":"#7fff7f"},{"offset":0.625,"color":"#ffff00"},{"offset":0.75,"color":"#ff7f00"},{"offset":0.875,"color":"#ff0000"},{"offset":1,"color":"#7f0000"}]}},"encoding":{"x2":{"field":"x2"},"y2":{"field":"y2"}}},
{"data":{"values":[{"x":1.07,"y":-0.191,"t":"0.0"},{"x":1.07,"y":-0.132,"t":"0.1"},{"x":1.07,"y":-0.074,"t":"0.2"},{"x":1.07,"y":-0.015,"t":"0.3"},{"x":1.07,"y":0.044,"t":"0.4"}]},"mark":{"type":"text","fontSize":4.5,"color":"#333","align":"left"},"encoding":{"text":{"field":"t"}}},
{"data":{"values":[{"x":1.002,"y":0.174,"t":"Thickness"}]},"mark":{"type":"text","fontSize":6,"color":"#333","align":"left"},"encoding":{"text":{"field":"t"}}},
{"data":{"values":[{"x":-0.071,"y":0.946,"t":"Keilmesser"}]},"mark":{"type":"text","font":"Lato","fontSize":26.5,"color":"#222","baseline":"alphabetic"},"encoding":{"text":{"field":"t"}}}
]},
{"width":260,"height":182,
"encoding":{"x":{"field":"x","type":"quantitative","scale":{"domain":[-1.087,0.872],"nice":false,"zero":false},"axis":{"zindex":1,"title":"Normalized distance","values":[-1,-0.5,0,0.5],"format":".1f"}},"y":{"field":"y","type":"quantitative","scale":{"domain":[-0.747,0.636],"nice":false,"zero":false},"axis":{"zindex":1,"title":"Normalized distance","values":[-0.4,0,0.4],"format":".1f"}}},
"layer":[
{"data":{"values":[{"x":-1.087,"x2":0.872,"y":-0.747,"y2":0.636}]},"mark":{"type":"rect","fill":"white","stroke":"#bbb","strokeWidth":1},"encoding":{"x2":{"field":"x2"},"y2":{"field":"y2"}}},
{"data":{"name":"b1"},"transform":[{"filter":"datum.v==0"}],"mark":{"type":"line","interpolate":"cardinal-closed","fill":"#00007f","stroke":"#00007f","strokeWidth":1.5},"encoding":{"order":{"value":null}}},
{"data":{"name":"b1"},"transform":[{"filter":"datum.v>0"}],"mark":{"type":"line","interpolate":"cardinal-closed","strokeWidth":7,"strokeOpacity":0.5},"encoding":{"order":{"value":null},"fill":{"field":"v","type":"quantitative","scale":{"domain":[0,0.41],"range":["#00007f","#0000ff","#007fff","#00ffff","#7fff7f","#ffff00","#ff7f00","#ff0000","#7f0000"]},"legend":null},"stroke":{"field":"v","type":"quantitative","scale":{"domain":[0,0.41],"range":["#00007f","#0000ff","#007fff","#00ffff","#7fff7f","#ffff00","#ff7f00","#ff0000","#7f0000"]},"legend":null}}},
{"data":{"name":"b2"},"mark":{"type":"line","interpolate":"cardinal-closed","tension":0.4,"stroke":"#111","strokeWidth":1.6},"encoding":{"order":{"value":null},"detail":{"field":"g"},"fill":{"field":"v","type":"quantitative","legend":null}}},
{"data":{"name":"b3"},"mark":{"type":"line","interpolate":"cardinal-closed","strokeWidth":5,"strokeOpacity":0.4},"encoding":{"order":{"value":null},"fill":{"field":"v","type":"quantitative","legend":null},"stroke":{"field":"v","type":"quantitative","legend":null}}},
{"data":{"values":[{"x":-1,"x2":0.74,"y":0.147}]},"mark":{"type":"rule","color":"#333","strokeDash":[3,2],"strokeWidth":0.8},"encoding":{"x2":{"field":"x2"}}},
{"data":{"values":[{"x":0,"y":0},{"x":0.48,"y":0}]},"layer":[{"mark":{"type":"line","color":"#333","strokeWidth":0.6}},{"mark":{"type":"point","shape":"square","size":18,"color":"#554","strokeWidth":0.7}}]},
{"data":{"values":[{"x":0.37,"y":0.56},{"x":0.42,"y":-0.66}]},"mark":{"type":"point","size":14,"color":"#e87ba0","strokeWidth":0.7}},
{"data":{"values":[{"x":0.71,"y":0.6,"t":"res: 0.01"}]},"mark":{"type":"text","fontSize":4.5,"color":"#333"},"encoding":{"text":{"field":"t"}}},
{"data":{"values":[{"x":0.932,"x2":0.989,"y":0.043,"y2":-0.245}]},"mark":{"type":"rect","fill":{"gradient":"linear","x1":0,"y1":1,"x2":0,"y2":0,"stops":[{"offset":0,"color":"#00007f"},{"offset":0.125,"color":"#0000ff"},{"offset":0.25,"color":"#007fff"},{"offset":0.375,"color":"#00ffff"},{"offset":0.5,"color":"#7fff7f"},{"offset":0.625,"color":"#ffff00"},{"offset":0.75,"color":"#ff7f00"},{"offset":0.875,"color":"#ff0000"},{"offset":1,"color":"#7f0000"}]}},"encoding":{"x2":{"field":"x2"},"y2":{"field":"y2"}}},
{"data":{"values":[{"x":1.0,"y":-0.236,"t":"0.0"},{"x":1.0,"y":-0.167,"t":"0.1"},{"x":1.0,"y":-0.099,"t":"0.2"},{"x":1.0,"y":-0.03,"t":"0.3"},{"x":1.0,"y":0.038,"t":"0.4"}]},"mark":{"type":"text","fontSize":4.5,"color":"#333","align":"left"},"encoding":{"text":{"field":"t"}}},
{"data":{"values":[{"x":0.932,"y":0.119,"t":"Thickness"}]},"mark":{"type":"text","fontSize":6,"color":"#333","align":"left"},"encoding":{"text":{"field":"t"}}},
{"data":{"values":[{"x":-0.07,"y":0.834,"t":"Handaxe"}]},"mark":{"type":"text","font":"Lato","fontSize":26.5,"color":"#222","baseline":"alphabetic"},"encoding":{"text":{"field":"t"}}}
]},
{"width":259,"height":147,
"encoding":{"x":{"field":"x","type":"quantitative","scale":{"domain":[-1.108,1.002],"nice":false,"zero":false},"axis":{"zindex":1,"title":"Normalized distance","values":[-1,-0.5,0,0.5],"format":".1f"}},"y":{"field":"y","type":"quantitative","scale":{"domain":[-0.535,0.656],"nice":false,"zero":false},"axis":{"zindex":1,"title":"Normalized distance","values":[-0.5,-0.25,0,0.25,0.5],"format":".2f"}}},
"layer":[
{"data":{"values":[{"x":-1.092,"x2":0.994,"y":-0.535,"y2":0.51}]},"mark":{"type":"rect","fill":"white","stroke":"#bbb","strokeWidth":1},"encoding":{"x2":{"field":"x2"},"y2":{"field":"y2"}}},
{"data":{"name":"c1"},"transform":[{"filter":"datum.v==0"}],"mark":{"type":"line","interpolate":"cardinal-closed","fill":"#00007f","stroke":"#00007f","strokeWidth":1.5},"encoding":{"order":{"value":null}}},
{"data":{"name":"c1"},"transform":[{"filter":"datum.v>0"}],"mark":{"type":"line","interpolate":"cardinal-closed","strokeWidth":7,"strokeOpacity":0.5},"encoding":{"order":{"value":null},"fill":{"field":"v","type":"quantitative","scale":{"domain":[0,0.18],"range":["#00007f","#0000ff","#007fff","#00ffff","#7fff7f","#ffff00","#ff7f00","#ff0000","#7f0000"]},"legend":null},"stroke":{"field":"v","type":"quantitative","scale":{"domain":[0,0.18],"range":["#00007f","#0000ff","#007fff","#00ffff","#7fff7f","#ffff00","#ff7f00","#ff0000","#7f0000"]},"legend":null}}},
{"data":{"name":"c2"},"mark":{"type":"line","interpolate":"cardinal-closed","tension":0.4,"stroke":"#111","strokeWidth":1.4},"encoding":{"order":{"value":null},"detail":{"field":"g"},"fill":{"field":"v","type":"quantitative","legend":null}}},
{"data":{"values":[{"x":-1,"x2":0.9,"y":0.127}]},"mark":{"type":"rule","color":"#333","strokeDash":[3,2],"strokeWidth":0.8},"encoding":{"x2":{"field":"x2"}}},
{"data":{"values":[{"x":0,"y":0},{"x":-0.04,"y":0.16}]},"layer":[{"mark":{"type":"line","color":"#444","strokeWidth":0.6},"encoding":{"order":{"value":null}}},{"mark":{"type":"point","shape":"square","size":18,"color":"#6a3f70","strokeWidth":0.7}}]},
{"data":{"values":[{"x":-0.73,"y":0.45},{"x":0.88,"y":-0.2}]},"mark":{"type":"point","size":14,"color":"#e87ba0","strokeWidth":0.7}},
{"data":{"values":[{"x":0.82,"y":0.47,"t":"res: 0.01"}]},"mark":{"type":"text","fontSize":4.5,"color":"#333"},"encoding":{"text":{"field":"t"}}},
{"data":{"values":[{"x":1.059,"x2":1.121,"y":0.097,"y2":-0.219}]},"mark":{"type":"rect","fill":{"gradient":"linear","x1":0,"y1":1,"x2":0,"y2":0,"stops":[{"offset":0,"color":"#00007f"},{"offset":0.125,"color":"#0000ff"},{"offset":0.25,"color":"#007fff"},{"offset":0.375,"color":"#00ffff"},{"offset":0.5,"color":"#7fff7f"},{"offset":0.625,"color":"#ffff00"},{"offset":0.75,"color":"#ff7f00"},{"offset":0.875,"color":"#ff0000"},{"offset":1,"color":"#7f0000"}]}},"encoding":{"x2":{"field":"x2"},"y2":{"field":"y2"}}},
{"data":{"values":[{"x":1.133,"y":-0.216,"t":"0.00"},{"x":1.133,"y":-0.13,"t":"0.05"},{"x":1.133,"y":-0.046,"t":"0.10"},{"x":1.133,"y":0.041,"t":"0.15"}]},"mark":{"type":"text","fontSize":4.5,"color":"#333","align":"left"},"encoding":{"text":{"field":"t"}}},
{"data":{"values":[{"x":1.059,"y":0.17,"t":"Thickness"}]},"mark":{"type":"text","fontSize":6,"color":"#333","align":"left"},"encoding":{"text":{"field":"t"}}},
{"data":{"values":[{"x":-0.073,"y":-1.094,"t":"Simple scraper"}]},"mark":{"type":"text","font":"Lato","fontSize":26.5,"color":"#222","baseline":"alphabetic"},"encoding":{"text":{"field":"t"}}}
]},
{"width":260,"height":174,
"encoding":{"x":{"field":"x","type":"quantitative","scale":{"domain":[-1.109,0.813],"nice":false,"zero":false},"axis":{"zindex":1,"title":null,"labels":false,"values":[-1,-0.5,0,0.5]}},"y":{"field":"y","type":"quantitative","scale":{"domain":[-0.653,0.64],"nice":false,"zero":false},"axis":{"zindex":1,"title":"Normalized distance","values":[-0.6,-0.3,0,0.3,0.6],"format":".1f"}}},
"layer":[
{"data":{"values":[{"x":-1.109,"x2":0.813,"y":-0.653,"y2":0.64}]},"mark":{"type":"rect","fill":"white","stroke":"#bbb","strokeWidth":1},"encoding":{"x2":{"field":"x2"},"y2":{"field":"y2"}}},
{"data":{"name":"d1"},"transform":[{"filter":"datum.v==0"}],"mark":{"type":"line","interpolate":"cardinal-closed","fill":"#00007f","stroke":"#00007f","strokeWidth":1.5},"encoding":{"order":{"value":null}}},
{"data":{"name":"d1"},"transform":[{"filter":"datum.v>0"}],"mark":{"type":"line","interpolate":"cardinal-closed","strokeWidth":7,"strokeOpacity":0.5},"encoding":{"order":{"value":null},"fill":{"field":"v","type":"quantitative","scale":{"domain":[0,0.53],"range":["#00007f","#0000ff","#007fff","#00ffff","#7fff7f","#ffff00","#ff7f00","#ff0000","#7f0000"]},"legend":null},"stroke":{"field":"v","type":"quantitative","scale":{"domain":[0,0.53],"range":["#00007f","#0000ff","#007fff","#00ffff","#7fff7f","#ffff00","#ff7f00","#ff0000","#7f0000"]},"legend":null}}},
{"data":{"name":"d2"},"mark":{"type":"line","interpolate":"cardinal-closed","tension":0.4,"stroke":"#111","strokeWidth":1.6},"encoding":{"order":{"value":null},"detail":{"field":"g"},"fill":{"field":"v","type":"quantitative","legend":null}}},
{"data":{"name":"d3"},"mark":{"type":"line","interpolate":"cardinal-closed","strokeWidth":5,"strokeOpacity":0.4},"encoding":{"order":{"value":null},"fill":{"field":"v","type":"quantitative","legend":null},"stroke":{"field":"v","type":"quantitative","legend":null}}},
{"data":{"values":[{"x":-1,"x2":0.68,"y":0.086}]},"mark":{"type":"rule","color":"#333","strokeDash":[3,2],"strokeWidth":0.8},"encoding":{"x2":{"field":"x2"}}},
{"data":{"values":[{"x":0,"y":0},{"x":0.25,"y":0.2}]},"layer":[{"mark":{"type":"line","color":"#333","strokeWidth":0.6}},{"mark":{"type":"point","shape":"square","size":18,"color":"#554","strokeWidth":0.7}}]},
{"data":{"values":[{"x":-0.31,"y":0.43},{"x":0.5,"y":-0.59}]},"mark":{"type":"point","size":14,"color":"#e87ba0","strokeWidth":0.7}},
{"data":{"values":[{"x":0.68,"y":0.09}]},"mark":{"type":"point","size":20,"color":"#355","strokeWidth":0.7}},
{"data":{"values":[{"x":0.65,"y":0.6,"t":"res: 0.01"}]},"mark":{"type":"text","fontSize":4.5,"color":"#333"},"encoding":{"text":{"field":"t"}}},
{"data":{"values":[{"x":0.872,"x2":0.927,"y":0.097,"y2":-0.2}]},"mark":{"type":"rect","fill":{"gradient":"linear","x1":0,"y1":1,"x2":0,"y2":0,"stops":[{"offset":0,"color":"#00007f"},{"offset":0.125,"color":"#0000ff"},{"offset":0.25,"color":"#007fff"},{"offset":0.375,"color":"#00ffff"},{"offset":0.5,"color":"#7fff7f"},{"offset":0.625,"color":"#ffff00"},{"offset":0.75,"color":"#ff7f00"},{"offset":0.875,"color":"#ff0000"},{"offset":1,"color":"#7f0000"}]}},"encoding":{"x2":{"field":"x2"},"y2":{"field":"y2"}}},
{"data":{"values":[{"x":0.939,"y":-0.186,"t":"0.0"},{"x":0.939,"y":-0.134,"t":"0.1"},{"x":0.939,"y":-0.082,"t":"0.2"},{"x":0.939,"y":-0.03,"t":"0.3"},{"x":0.939,"y":0.022,"t":"0.4"},{"x":0.939,"y":0.074,"t":"0.5"}]},"mark":{"type":"text","fontSize":4.5,"color":"#333","align":"left"},"encoding":{"text":{"field":"t"}}},
{"data":{"values":[{"x":0.872,"y":0.171,"t":"Thickness"}]},"mark":{"type":"text","fontSize":6,"color":"#333","align":"left"},"encoding":{"text":{"field":"t"}}},
{"data":{"values":[{"x":-0.118,"y":-0.965,"t":"Unifacial scraper"}]},"mark":{"type":"text","font":"Lato","fontSize":26.5,"color":"#222","baseline":"alphabetic"},"encoding":{"text":{"field":"t"}}}
]}
]}
